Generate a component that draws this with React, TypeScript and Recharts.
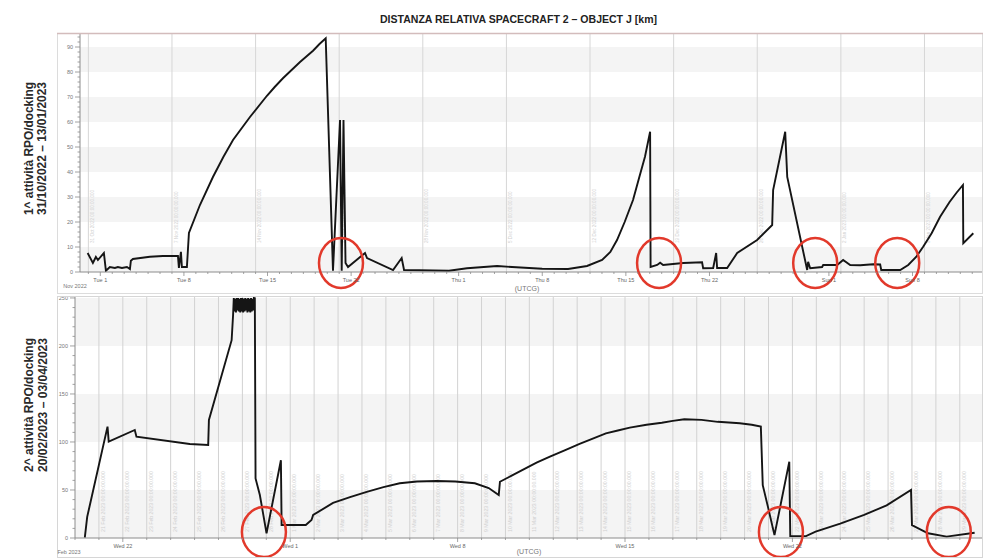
import React from 'react';
import {
  LineChart,
  Line,
  XAxis,
  YAxis,
  ReferenceArea,
  ReferenceLine,
  ReferenceDot
} from 'recharts';

const FONT = '"Liberation Sans", Arial, sans-serif';

// 1^ attività: days counted from 1 Nov 2022 (Tue 1 = 0), distance in km
const topDays = [
  -1.06, -0.62, -0.37, -0.2, 0.3, 0.47, 0.8, 1.22, 1.47, 1.81, 2.23, 2.48, 2.56, 2.73,
  4.15, 5.24, 6.5, 6.58, 6.75, 6.83, 7.25, 7.42, 8.34, 9.43, 10.3, 11.11, 12.53, 13.95,
  14.6, 15.29, 16.72, 17.81, 18.35, 18.87, 19.48, 20.07, 20.21, 20.36, 20.53, 20.74,
  22.16, 22.33, 24.51, 25.23, 25.43, 29.19, 30.7, 33.22, 34.47, 36.99, 39.16, 40.75,
  42.01, 42.7, 43.26, 43.9, 44.6, 45.1, 45.6, 46.03, 46.07, 46.62, 46.87, 47.12, 48.79,
  50.38, 50.47, 51.31, 51.56, 51.64, 52.48, 53.32, 54.99, 56.25, 56.33, 57.34, 57.51,
  59.18, 59.26, 59.43, 60.43, 60.52, 61.69, 62.19, 62.78, 63.62, 64.71, 65.29, 65.38,
  66.97, 67.64, 68.3, 68.89, 69.6, 70.31, 71.1, 71.7, 72.22, 72.25, 73.09
];
const topKm = [
  7.6, 3.6, 6.0, 4.8, 7.6, 0.5, 2.0, 1.6, 2.0, 1.6, 2.0, 1.2, 4.5, 5.2,
  6.1, 6.4, 6.4, 1.6, 8.1, 2.0, 2.0, 15.6, 26.8, 38.0, 46.0, 52.8, 62.0, 70.5,
  74.0, 77.5, 84.0, 88.5, 91.2, 93.5, 0.5, 60.8, 0.5, 60.8, 3.6, 2.0,
  7.6, 5.6, 0.8, 5.6, 0.8, 0.5, 1.5, 2.4, 2.0, 1.3, 1.2, 2.4,
  4.8, 8.0, 12.8, 20.0, 28.8, 37.5, 46.1, 56.1, 2.0, 2.8, 3.7, 2.8, 3.6,
  3.9, 1.5, 1.6, 7.6, 1.6, 1.6, 7.6, 12.8, 18.8, 32.8, 56.1, 38.0,
  0.8, 4.1, 1.5, 2.0, 2.8, 2.8, 4.8, 2.8, 2.7, 3.1, 3.0, 0.8,
  0.8, 2.8, 6.0, 10.1, 15.5, 22.1, 28.0, 31.8, 34.8, 11.5, 15.5
];

// 2^ attività: days counted from 20 Feb 2023, distance in km
const bottomDays = [
  0.41, 0.51, 1.36, 1.41, 2.5, 2.57, 4.8, 5.57, 5.6, 6.55, 6.61,
  6.64, 6.67, 6.7, 6.73, 6.76, 6.79, 6.82, 6.85, 6.88, 6.91, 6.94, 6.97, 7.0, 7.03, 7.06,
  7.09, 7.12, 7.15, 7.18, 7.21, 7.24, 7.27, 7.3, 7.33, 7.36, 7.39, 7.42, 7.45, 7.48, 7.52,
  7.55, 7.73, 8.01, 8.61, 8.64, 9.65, 9.89, 9.96, 10.79, 11.5, 12.2, 12.9, 13.58, 14.3,
  15.13, 15.9, 16.72, 17.3, 17.72, 17.77, 18.3, 18.8, 19.3, 19.86, 20.5, 21.1, 21.6,
  22.2, 22.7, 23.2, 23.9, 24.54, 25.0, 25.48, 26.2, 26.88, 27.8, 28.3, 28.68,
  28.76, 29.01, 29.25, 29.87, 29.91, 30.57, 30.97, 32.0, 33.0, 33.94, 34.96, 35.0,
  35.67, 36.45, 37.62
];
const bottomKm = [
  0.3, 22, 116, 100.3, 112.5, 105.5, 97.9, 96.9, 123, 206, 232,
  250, 236, 249, 235, 250, 237, 250, 236, 249, 235, 250, 236, 250, 235, 249,
  236, 250, 237, 249, 235, 250, 236, 249, 235, 250, 236, 249, 237, 250, 249.7,
  62, 44.8, 4.9, 81, 13.5, 13.5, 18.8, 24, 36.5, 42.5, 48, 53, 57, 58.8,
  59.4, 58.8, 57, 52, 44.8, 58.6, 65.5, 72, 78.5, 84.7, 91.5, 98, 103,
  109, 112, 115, 118, 120, 122, 123.6, 123, 121, 119.5, 118, 116,
  55, 29, 3, 79.5, 2, 2, 6.6, 15, 24, 34, 50, 13.5,
  4.9, 1.4, 5.5
];

// docking events circled in red
const topCircleDays = [20.15, 46.78, 59.85, 66.72];
const topCircleKm = [3.6, 3.6, 3.6, 3.6];
const bottomCircleDays = [7.9, 29.52, 36.54];
const bottomCircleKm = [6.2, 6.2, 6.2];

// axis ticks
const topTickDays = [0, 7, 14, 21, 30, 37, 44, 51, 61, 68];
const topTickLabels = ['Tue 1', 'Tue 8', 'Tue 15', 'Tue 22', 'Thu 1', 'Thu 8', 'Thu 15', 'Thu 22', 'Sun 1', 'Sun 8'];
const bottomTickDays = [2, 9, 16, 23, 30];
const bottomTickLabels = ['Wed 22', 'Wed 1', 'Wed 8', 'Wed 15', 'Wed 22'];
const topYMajor = [0, 10, 20, 30, 40, 50, 60, 70, 80, 90];
const bottomYMajor = [0, 50, 100, 150, 200, 250];

// weekly grid (top) and daily grid (bottom)
const topGridDays = [-1, 6, 13, 20, 27, 34, 41, 48, 55, 62, 69];
const topGridLabels = [
  '31 Oct 2022 00:00:00.000', '7 Nov 2022 00:00:00.000', '14 Nov 2022 00:00:00.000',
  '21 Nov 2022 00:00:00.000', '28 Nov 2022 00:00:00.000', '5 Dec 2022 00:00:00.000',
  '12 Dec 2022 00:00:00.000', '19 Dec 2022 00:00:00.000', '26 Dec 2022 00:00:00.000',
  '2 Jan 2023 00:00:00.000', '9 Jan 2023 00:00:00.000'
];
const bottomGridDays = Array.from({ length: 37 }, (_, i) => i + 1);
const MONTHS = ['Jan', 'Feb', 'Mar', 'Apr'];
const bottomGridLabels = bottomGridDays.map((d) => {
  const dt = new Date(Date.UTC(2023, 1, 20 + d));
  return `${dt.getUTCDate()} ${MONTHS[dt.getUTCMonth()]} 2023 00:00:00.000`;
});

const topBands = [[0, 10], [20, 30], [40, 50], [60, 70], [80, 90]];
const bottomBands = [[0, 50], [100, 150], [200, 250]];

const TOP_X: [number, number] = [-1.7, 73.9];
const TOP_Y: [number, number] = [0, 95.6];
const BOTTOM_X: [number, number] = [0, 37.97];
const BOTTOM_Y: [number, number] = [0, 251];

const topData = topDays.map((d, i) => ({ d, km: topKm[i] }));
const bottomData = bottomDays.map((d, i) => ({ d, km: bottomKm[i] }));

const range = (a: number, b: number, step: number) => {
  const out: number[] = [];
  for (let v = a; v <= b; v += step) out.push(v);
  return out;
};

const yTick = (major: number[]) => (p: any) => {
  const v = p.payload.value;
  const isMajor = major.includes(v);
  return (
    <g>
      <line x1={p.x} x2={p.x - (isMajor ? 5 : 2.5)} y1={p.y} y2={p.y} stroke="#8c8c8c" strokeWidth={0.8} />
      {isMajor && (
        <text x={p.x - 7} y={p.y + 2} textAnchor="end" fontSize={5.5} fill="#777" fontFamily={FONT}>
          {v}
        </text>
      )}
    </g>
  );
};

const xTick = (days: number[], labels: string[]) => (p: any) => {
  const i = days.indexOf(p.payload.value);
  return (
    <g>
      <line x1={p.x} x2={p.x} y1={p.y} y2={p.y + (i >= 0 ? 4 : 2)} stroke="#8c8c8c" strokeWidth={0.8} />
      {i >= 0 && (
        <text x={p.x} y={p.y + 9.5} textAnchor="middle" fontSize={5.5} fill="#666" fontFamily={FONT}>
          {labels[i]}
        </text>
      )}
    </g>
  );
};

const gridLabel = (text: string, size: number, bottomPad: number) => (props: any) => {
  const vb = props.viewBox;
  const x = vb.x + size + 1;
  const y = vb.y + vb.height - bottomPad;
  return (
    <text x={x} y={y} transform={`rotate(-90 ${x} ${y})`} fontSize={size} fill="#d0d0d0" fontFamily={FONT}>
      {text}
    </text>
  );
};

const ring = (props: any) => (
  <ellipse cx={props.cx} cy={props.cy} rx={22} ry={25} fill="none" stroke="#e2392b" strokeWidth={2.5} />
);

const TopChart = () => (
  <LineChart width={987} height={290} data={topData} margin={{ top: 33, right: 4, bottom: 0, left: 0 }}>
    {topBands.map(([a, b]) => (
      <ReferenceArea key={a} x1={TOP_X[0]} x2={TOP_X[1]} y1={a} y2={b} fill="#f4f4f4" fillOpacity={1} stroke="none" />
    ))}
    {topGridDays.map((d, i) => (
      <ReferenceLine key={d} x={d} stroke="#d6d6d6" strokeWidth={1} label={gridLabel(topGridLabels[i], 4.6, 29)} />
    ))}
    <XAxis
      dataKey="d"
      type="number"
      domain={TOP_X}
      allowDataOverflow
      ticks={range(-1, 73, 1)}
      interval={0}
      tickSize={0}
      tickMargin={0}
      height={18}
      stroke="#8c8c8c"
      tick={xTick(topTickDays, topTickLabels)}
    />
    <YAxis
      type="number"
      domain={TOP_Y}
      allowDataOverflow
      ticks={range(0, 94, 2)}
      interval={0}
      tickSize={0}
      tickMargin={0}
      width={80}
      stroke="#8c8c8c"
      tick={yTick(topYMajor)}
    />
    <Line type="linear" dataKey="km" stroke="#151515" strokeWidth={1.9} dot={false} isAnimationActive={false} />
    {topCircleDays.map((d, i) => (
      <ReferenceDot key={d} x={d} y={topCircleKm[i]} r={22} shape={ring} />
    ))}
  </LineChart>
);

const BottomChart = () => (
  <LineChart width={987} height={278} data={bottomData} margin={{ top: 17, right: 4, bottom: 6, left: 0 }}>
    {bottomBands.map(([a, b]) => (
      <ReferenceArea key={a} x1={BOTTOM_X[0]} x2={BOTTOM_X[1]} y1={a} y2={b} fill="#f4f4f4" fillOpacity={1} stroke="none" />
    ))}
    {bottomGridDays.map((d, i) => (
      <ReferenceLine key={d} x={d} stroke="#d2d2d2" strokeWidth={1} label={gridLabel(bottomGridLabels[i], 5.2, 6)} />
    ))}
    <XAxis
      dataKey="d"
      type="number"
      domain={BOTTOM_X}
      allowDataOverflow
      ticks={range(0, 37, 1)}
      interval={0}
      tickSize={0}
      tickMargin={0}
      height={14}
      stroke="#8c8c8c"
      tick={xTick(bottomTickDays, bottomTickLabels)}
    />
    <YAxis
      type="number"
      domain={BOTTOM_Y}
      allowDataOverflow
      ticks={range(0, 250, 10)}
      interval={0}
      tickSize={0}
      tickMargin={0}
      width={75}
      stroke="#8c8c8c"
      tick={yTick(bottomYMajor)}
    />
    <Line type="linear" dataKey="km" stroke="#151515" strokeWidth={1.9} dot={false} isAnimationActive={false} />
    {bottomCircleDays.map((d, i) => (
      <ReferenceDot key={d} x={d} y={bottomCircleKm[i]} r={22} shape={ring} />
    ))}
  </LineChart>
);

const App: React.FC = () => {
  return (
    <div style={{ position: 'absolute', left: 0, top: 0, width: 987, height: 558, background: '#fff', overflow: 'hidden' }}>
      <div style={{ position: 'absolute', left: 0, top: 0 }}>
        <TopChart />
      </div>
      <div style={{ position: 'absolute', left: 0, top: 280 }}>
        <BottomChart />
      </div>
      <svg width={987} height={558} style={{ position: 'absolute', left: 0, top: 0, pointerEvents: 'none' }}>
        {/* frames */}
        <rect x={57.5} y={33.5} width={925} height={260} fill="none" stroke="#dcdcdc" />
        <line x1={57} x2={983} y1={33.5} y2={33.5} stroke="#d3bcbc" strokeWidth={1.5} />
        <rect x={57.5} y={296.5} width={925} height={261} fill="none" stroke="#d6d6d6" />

        <text x={380} y={23} fontSize={10} fontWeight="bold" fill="#222" fontFamily={FONT} textLength={277} lengthAdjust="spacingAndGlyphs">
          DISTANZA RELATIVA  SPACECRAFT 2 – OBJECT J [km]
        </text>

        <g fontFamily={FONT} fontWeight="bold" fontSize={12} fill="#2a2a2a" textAnchor="middle">
          <text x={33} y={148.5} transform="rotate(-90 33 148.5)" textLength={133} lengthAdjust="spacingAndGlyphs">1^ attività RPO/docking</text>
          <text x={46} y={148.5} transform="rotate(-90 46 148.5)" textLength={133} lengthAdjust="spacingAndGlyphs">31/10/2022 – 13/01/2023</text>
          <text x={33} y={405} transform="rotate(-90 33 405)" textLength={134} lengthAdjust="spacingAndGlyphs">2^ attività RPO/docking</text>
          <text x={47} y={405} transform="rotate(-90 47 405)" textLength={134} lengthAdjust="spacingAndGlyphs">20/02/2023 – 03/04/2023</text>
        </g>

        <g fontFamily={FONT} fill="#777" textAnchor="middle">
          <text x={527} y={291} fontSize={7}>(UTCG)</text>
          <text x={529} y={554} fontSize={7}>(UTCG)</text>
          <text x={75} y={288} fontSize={5.5}>Nov 2022</text>
          <text x={69} y={554} fontSize={5.5}>Feb 2023</text>
        </g>
      </svg>
    </div>
  );
};

export default App;
